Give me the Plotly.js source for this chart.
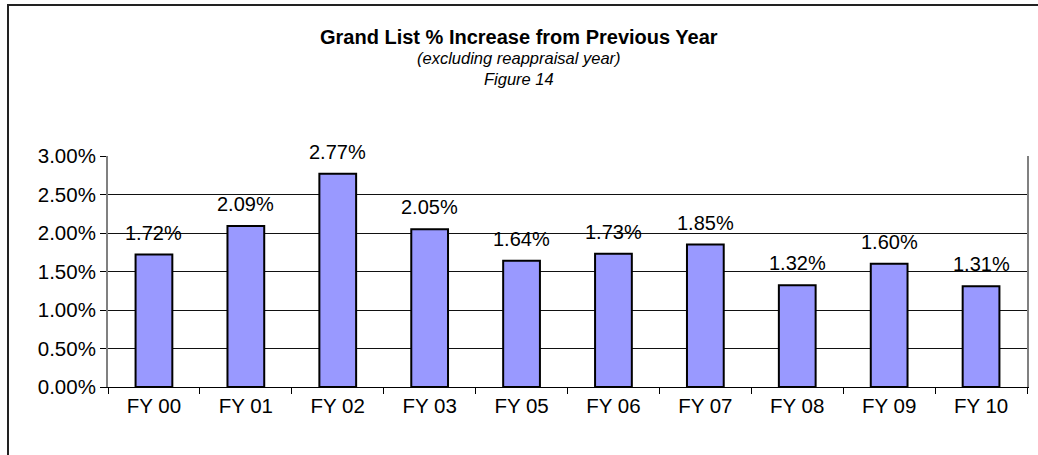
<!DOCTYPE html>
<html>
<head>
<meta charset="utf-8">
<script src="https://cdn.plot.ly/plotly-3.0.1.min.js"></script>
<style>
  html, body { margin: 0; padding: 0; background: #fff; }
  #chart { width: 1038px; height: 455px; }
</style>
</head>
<body>
<div id="chart"></div>
<script>
// Grand list growth by fiscal year (fractions, shown as %)
var years = ["FY 00", "FY 01", "FY 02", "FY 03", "FY 05", "FY 06", "FY 07", "FY 08", "FY 09", "FY 10"];
var increase = [0.0172, 0.0209, 0.0277, 0.0205, 0.0164, 0.0173, 0.0185, 0.0132, 0.0160, 0.0131];
var titleLines = ["<b>Grand List % Increase from Previous Year</b>", "<i>(excluding reappraisal year)</i>", "<i>Figure 14</i>"];

var font = "Liberation Sans, Arial, sans-serif";

var trace = {
  x: years,
  y: increase,
  type: "bar",
  marker: {color: "#9999ff", line: {color: "#000000", width: 2}},
  hoverinfo: "none"
};

// Excel-style labels sit a little above each bar
var labels = years.map(function (yr, i) {
  return {
    x: yr,
    y: increase[i],
    text: (increase[i] * 100).toFixed(2) + "%",
    showarrow: false,
    yanchor: "middle",
    yshift: 22,
    font: {family: font, size: 20, color: "#000"}
  };
});

// title block as three centred lines (pixel rows 37, 58, 79)
var titleY = [37, 58, 79];
var titleSize = [20, 16.5, 16.5];
titleLines.forEach(function (t, i) {
  labels.push({
    text: t,
    xref: "paper",
    yref: "paper",
    x: (519 - 108) / 919,
    y: (387 - titleY[i]) / 231,
    xanchor: "center",
    yanchor: "middle",
    showarrow: false,
    font: {family: font, size: titleSize[i], color: "#000"}
  });
});

var layout = {
  width: 1038,
  height: 455,
  margin: {l: 108, r: 11, t: 156, b: 68},
  paper_bgcolor: "#ffffff",
  plot_bgcolor: "#ffffff",
  showlegend: false,
  bargap: 0.6,
  font: {family: font, size: 20, color: "#000"},
  xaxis: {
    type: "category",
    showgrid: false,
    showline: true,
    linecolor: "#000",
    linewidth: 1,
    ticks: "outside",
    tickson: "boundaries",
    ticklen: 6,
    tickcolor: "#000",
    tickfont: {family: font, size: 20.5, color: "#000"}
  },
  yaxis: {
    range: [0, 0.03],
    dtick: 0.005,
    tickformat: ".2%",
    showgrid: true,
    gridcolor: "#111",
    gridwidth: 1,
    showline: true,
    linecolor: "#808080",
    linewidth: 2,
    mirror: true,
    ticks: "outside",
    ticklen: 6,
    tickcolor: "#000",
    zeroline: false,
    tickfont: {family: font, size: 20.5, color: "#000"}
  },
  annotations: labels,
  shapes: [{
    type: "rect",
    xref: "paper",
    yref: "paper",
    x0: (8 - 108) / 919,
    x1: (1045 - 108) / 919,
    y0: (387 - 470) / 231,
    y1: (387 - 5) / 231,
    line: {color: "#222", width: 2},
    fillcolor: "rgba(0,0,0,0)",
    layer: "below"
  }]
};

Plotly.newPlot("chart", [trace], layout, {displayModeBar: false, staticPlot: true});
</script>
</body>
</html>
